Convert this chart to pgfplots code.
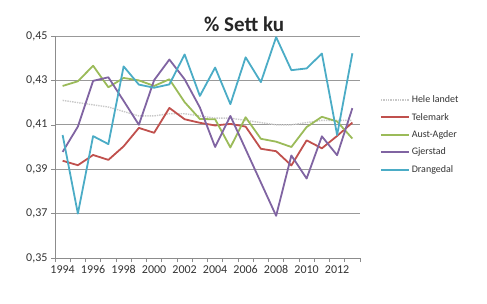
\documentclass[border=0pt]{standalone}
\usepackage{fontspec}
\setmainfont{Carlito}
\usepackage{pgfplots}
\pgfplotsset{compat=1.18}
\usepackage{pgfplotstable}
\definecolor{cred}{HTML}{C0504D}
\definecolor{cgreen}{HTML}{9BBB59}
\definecolor{cpurple}{HTML}{8064A2}
\definecolor{ccyan}{HTML}{4BACC6}
\definecolor{chele}{HTML}{C8C8C8}
\pgfplotstableread{
year hele tel aust gjer dran
1994 0.421 0.3938 0.4275 0.3978 0.4054
1995 0.420 0.3918 0.4296 0.4092 0.3700
1996 0.419 0.3964 0.4366 0.4298 0.4049
1997 0.418 0.3942 0.4269 0.4314 0.4013
1998 0.416 0.4003 0.4311 0.4208 0.4363
1999 0.414 0.4086 0.4300 0.4100 0.4281
2000 0.414 0.4064 0.4275 0.4301 0.4267
2001 0.415 0.4176 0.4305 0.4394 0.4282
2002 0.415 0.4125 0.4202 0.4305 0.4417
2003 0.414 0.4109 0.4126 0.4178 0.4230
2004 0.413 0.4097 0.4125 0.4000 0.4358
2005 0.413 0.4104 0.3998 0.4140 0.4193
2006 0.412 0.4092 0.4134 0.3990 0.4404
2007 0.411 0.3992 0.4037 0.3840 0.4292
2008 0.410 0.3981 0.4024 0.3690 0.4495
2009 0.410 0.3917 0.4000 0.3962 0.4346
2010 0.411 0.4030 0.4090 0.3858 0.4354
2011 0.412 0.3994 0.4136 0.4048 0.4421
2012 0.412 0.4050 0.4115 0.3963 0.4054
2013 0.412 0.4110 0.4038 0.4175 0.4422
}\data
\begin{document}
\begin{tikzpicture}
\useasboundingbox (0,0) rectangle (487pt,303pt);
\begin{axis}[
  at={(55pt,45pt)}, anchor=south west,
  scale only axis, width=305pt, height=222pt,
  xmin=1993.5, xmax=2013.5, ymin=0.35, ymax=0.45,
  axis x line*=bottom, axis y line*=left,
  axis line style={black!45, line width=0.8pt, -},
  xtick={1994,1996,...,2012},
  minor xtick={1993.5,1994.5,...,2013.5},
  every major x tick/.append style={draw=none},
  every minor x tick/.append style={black!45, line width=0.6pt},
  every major y tick/.append style={black!45, line width=0.6pt},
  minor tick length=4pt, major tick length=4pt,
  tick align=outside,
  ytick={0.35,0.37,0.39,0.41,0.43,0.45},
  yticklabels={{0,35},{0,37},{0,39},{0,41},{0,43},{0,45}},
  ymajorgrids, grid style={black!40, line width=0.7pt},
  /pgf/number format/assume math mode=true,
  xticklabel style={/pgf/number format/1000 sep={}, font=\fontsize{12}{13}\selectfont, text=black!80},
  yticklabel style={font=\fontsize{12}{13}\selectfont, text=black!80},
  title={\% Sett ku},
  title style={at={(0.62,1)}, anchor=south, font=\fontsize{21}{23}\selectfont\bfseries, yshift=-5pt, text=black!85},
  legend style={at={(1.055,0.555)}, anchor=west, draw=none, fill=none,
    font=\fontsize{10}{11}\selectfont, row sep=5pt, text=black!80},
  legend cell align=left,
  legend image code/.code={\draw[#1] (0pt,0pt) -- (28pt,0pt);},
]
\addplot[no marks, color=chele, densely dotted, line width=1.4pt] table[x=year,y=hele]{\data};
\addlegendentry{Hele landet}
\addplot[no marks, color=cred, line width=1.8pt, line join=round] table[x=year,y=tel]{\data};
\addlegendentry{Telemark}
\addplot[no marks, color=cgreen, line width=1.8pt, line join=round] table[x=year,y=aust]{\data};
\addlegendentry{Aust-Agder}
\addplot[no marks, color=cpurple, line width=1.8pt, line join=round] table[x=year,y=gjer]{\data};
\addlegendentry{Gjerstad}
\addplot[no marks, color=ccyan, line width=1.8pt, line join=round] table[x=year,y=dran]{\data};
\addlegendentry{Drangedal}
\end{axis}
\end{tikzpicture}
\end{document}
